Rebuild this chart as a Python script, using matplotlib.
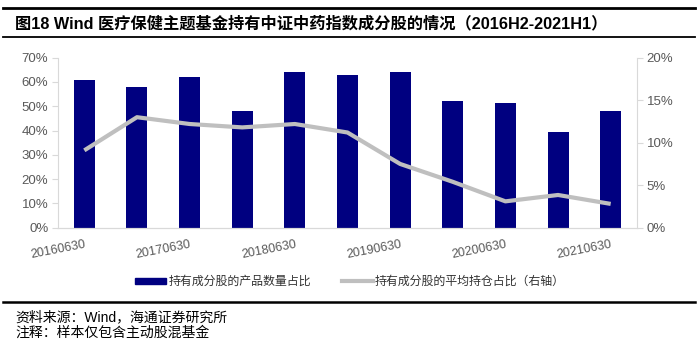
import matplotlib
matplotlib.use("Agg")
import matplotlib.pyplot as plt
from matplotlib.ticker import PercentFormatter
from matplotlib.lines import Line2D
from matplotlib.patches import Patch

plt.rcParams['font.family'] = ['Liberation Sans', 'Noto Sans CJK SC', 'DejaVu Sans']

dates = ["20160630", "20161231", "20170630", "20171231", "20180630", "20181231",
         "20190630", "20191231", "20200630", "20201231", "20210630"]
count_share = [61.0, 58.0, 62.0, 48.0, 64.0, 63.0, 64.0, 52.0, 51.5, 39.3, 48.2]
avg_weight = [9.1, 13.0, 12.2, 11.8, 12.2, 11.2, 7.5, 5.4, 3.1, 3.85, 2.8]
label_bar = "持有成分股的产品数量占比"
label_line = "持有成分股的平均持仓占比（右轴）"
title = "图18 Wind 医疗保健主题基金持有中证中药指数成分股的情况（2016H2-2021H1）"
notes = ["资料来源：Wind，海通证券研究所", "注释：样本仅包含主动股混基金"]

W, H = 700, 344
fig = plt.figure(figsize=(W / 100, H / 100), dpi=100)
ax = fig.add_axes([58 / W, 1 - 227.7 / H, (637 - 58) / W, (227.7 - 57.7) / H])
ax2 = ax.twinx()

x = list(range(len(dates)))
bar_color = "#000080"
line_color = "#BFBFBF"
tick_color = "#595959"
spine_color = "#D9D9D9"

ax.bar(x, count_share, width=0.4, color=bar_color, zorder=2)
ax2.plot(x, avg_weight, color=line_color, lw=3, zorder=3, solid_capstyle='butt')

ax.set_xlim(-0.5, len(dates) - 0.5)
ax.set_ylim(0, 70)
ax.set_yticks(range(0, 71, 10))
ax.yaxis.set_major_formatter(PercentFormatter(decimals=0))
ax2.set_ylim(0, 20)
ax2.set_yticks(range(0, 21, 5))
ax2.yaxis.set_major_formatter(PercentFormatter(decimals=0))

ax.set_xticks(x[::2])
ax.set_xticklabels(dates[::2], rotation=11, ha='right', va='top', rotation_mode='anchor')
ax.tick_params(axis='x', length=0, pad=8, labelsize=9, colors=tick_color)
ax.tick_params(axis='y', length=4, labelsize=9.5, colors=tick_color, direction='out', pad=3)
ax2.tick_params(axis='y', length=4, labelsize=9.5, colors=tick_color, direction='out', pad=3)
for a in (ax, ax2):
    a.tick_params(axis='y', color=spine_color)
    a.spines['top'].set_visible(False)
    a.spines['left'].set_color(spine_color)
    a.spines['right'].set_color(spine_color)
    a.spines['bottom'].set_color(spine_color)
ax.spines['right'].set_visible(False)
ax2.spines['left'].set_visible(False)
ax.set_zorder(ax2.get_zorder() - 1)
ax2.patch.set_visible(False)

# title and rules
fig.add_artist(Line2D([3 / W, 695 / W], [1 - 7.5 / H, 1 - 7.5 / H], color='black', lw=2))
fig.add_artist(Line2D([3 / W, 695 / W], [1 - 37 / H, 1 - 37 / H], color='black', lw=1.3))
fig.text(15 / W, 1 - 23 / H, title, fontsize=11.7, fontweight='bold', va='center', ha='left')

# legend
handles = [Patch(facecolor=bar_color, edgecolor=bar_color),
           Line2D([0], [0], color=line_color, lw=3)]
leg = fig.legend(handles, [label_bar, label_line], loc='center', bbox_to_anchor=(0.5, 1 - 282 / H),
                 ncol=2, frameon=False, fontsize=8.6, handlelength=2.6, handleheight=0.45,
                 handletextpad=0.15, columnspacing=2.6)
for t in leg.get_texts():
    t.set_color('#333333')

fig.add_artist(Line2D([3 / W, 695 / W], [1 - 302 / H, 1 - 302 / H], color='black', lw=1.8))
fig.text(15 / W, 1 - 317 / H, notes[0], fontsize=10, va='center', ha='left')
fig.text(15 / W, 1 - 333 / H, notes[1], fontsize=10, va='center', ha='left')

fig.savefig("out.png", dpi=100)
